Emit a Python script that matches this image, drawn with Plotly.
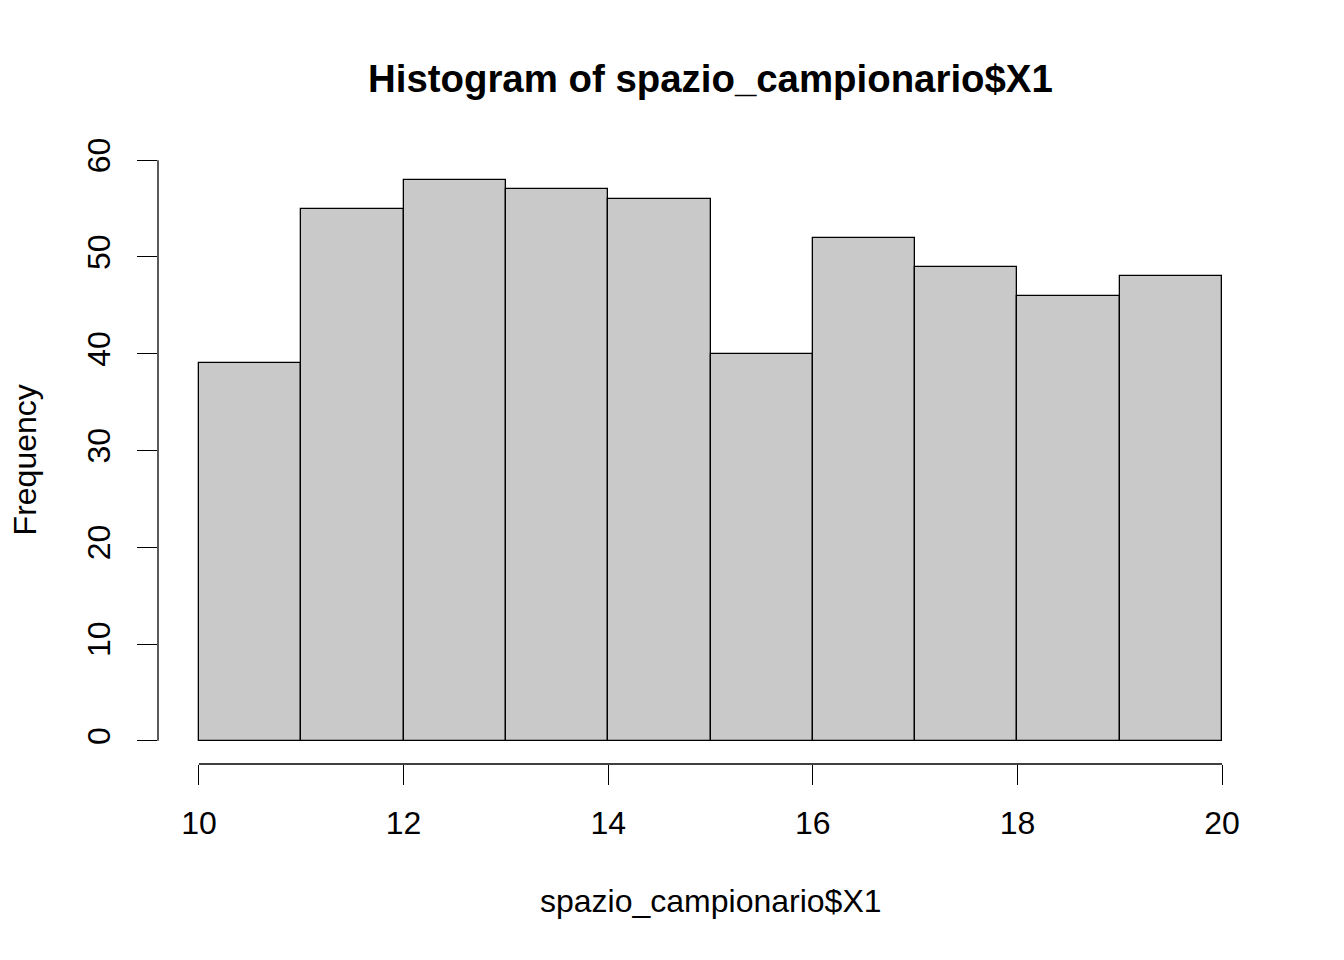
import plotly.graph_objects as go

# histogram breaks and counts
breaks = [10, 11, 12, 13, 14, 15, 16, 17, 18, 19, 20]
counts = [39, 55, 58, 57, 56, 40, 52, 49, 46, 48]
x_ticks = [10, 12, 14, 16, 18, 20]
y_ticks = [0, 10, 20, 30, 40, 50, 60]

title_text = "Histogram of spazio_campionario$X1"
x_label = "spazio_campionario$X1"
y_label = "Frequency"

FONT = "Liberation Sans, Arial, Helvetica, sans-serif"

mids = [(a + b) / 2 for a, b in zip(breaks[:-1], breaks[1:])]
widths = [b - a for a, b in zip(breaks[:-1], breaks[1:])]

fig = go.Figure(go.Bar(
    x=mids, y=counts, width=widths,
    marker=dict(color="#C9C9C9", line=dict(color="black", width=1.3)),
    hoverinfo="x+y",
))

# R pads the axis limits by 4%
xpad = (breaks[-1] - breaks[0]) * 0.04
ypad = max(y_ticks) * 0.04

axis_common = dict(
    showgrid=False, zeroline=False, showline=False,
    ticks="outside", ticklen=20, tickwidth=1.3, tickcolor="black",
    tickfont=dict(family=FONT, size=32, color="black"),
)

fig.update_xaxes(range=[breaks[0] - xpad, breaks[-1] + xpad],
                 tickvals=x_ticks, ticktext=[str(v) for v in x_ticks],
                 ticklabelstandoff=11, **axis_common)
fig.update_yaxes(range=[-ypad, max(y_ticks) + ypad],
                 tickvals=y_ticks, ticktext=[str(v) for v in y_ticks],
                 tickangle=-90, ticklabelstandoff=14, **axis_common)

# axis lines only span the tick range, like base R
fig.add_shape(type="line", xref="x", yref="paper",
              x0=x_ticks[0], x1=x_ticks[-1], y0=0, y1=0,
              line=dict(color="black", width=1.3))
fig.add_shape(type="line", xref="paper", yref="y",
              x0=0, x1=0, y0=y_ticks[0], y1=y_ticks[-1],
              line=dict(color="black", width=1.3))

fig.add_annotation(text="<b>" + title_text + "</b>", xref="paper", yref="paper",
                   x=0.5, y=1.094, showarrow=False, yanchor="middle",
                   font=dict(family=FONT, size=38.4, color="black"))
fig.add_annotation(text=x_label, xref="paper", yref="paper",
                   x=0.5, y=-0.2185, showarrow=False, yanchor="middle",
                   font=dict(family=FONT, size=32, color="black"))
fig.add_annotation(text=y_label, xref="paper", yref="paper",
                   x=-0.1205, y=0.4856, showarrow=False, textangle=-90,
                   xanchor="center", yanchor="middle", borderpad=0,
                   font=dict(family=FONT, size=32, color="black"))

# page body adds ~8px offset, so margins are shifted to compensate
fig.update_layout(
    width=1344, height=960,
    margin=dict(l=150, r=89, t=129, b=204),
    plot_bgcolor="white", paper_bgcolor="white",
    showlegend=False, bargap=0,
)

fig.write_html("out.html")
